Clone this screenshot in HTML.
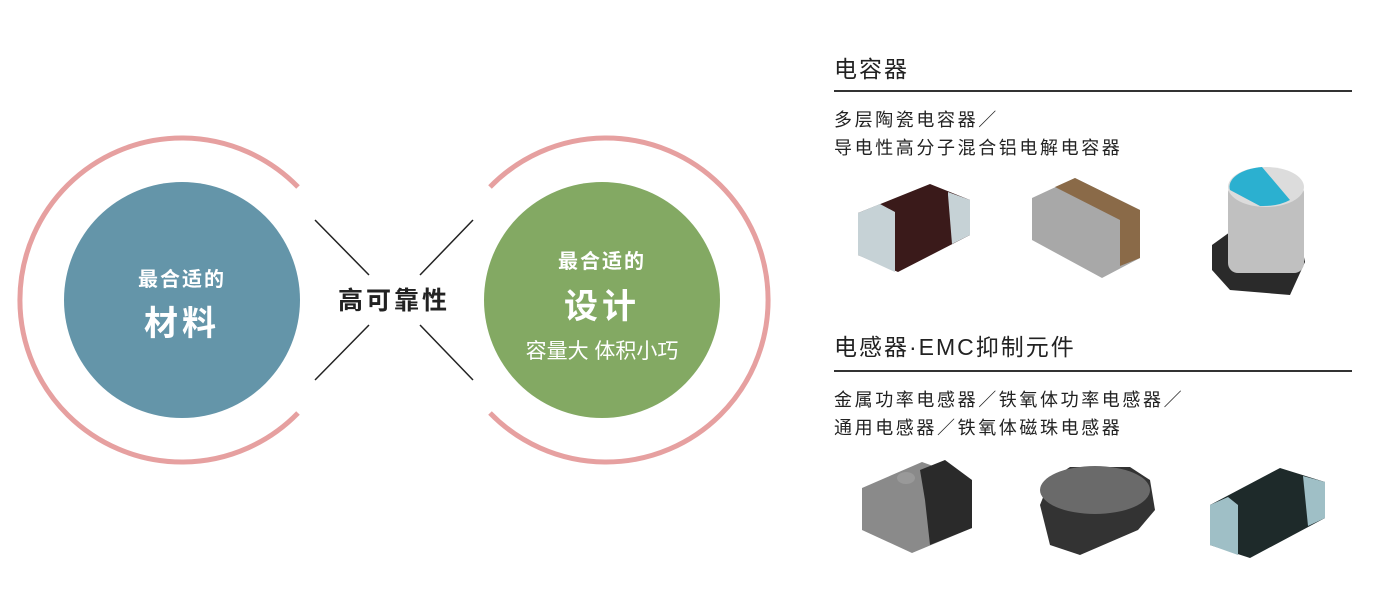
<!DOCTYPE html>
<html><head><meta charset="utf-8"><style>
body{margin:0;width:1400px;height:600px;background:#fff;overflow:hidden;font-family:"Liberation Sans","Noto Sans CJK SC",sans-serif;position:relative}
.t{position:absolute;color:#222;white-space:nowrap}
.h{font-size:23px;letter-spacing:2px}
.s{font-size:18px;line-height:28px;letter-spacing:2.6px}
.ln{position:absolute;left:834px;width:518px;height:2px;background:#333}
</style></head><body>
<svg width="1400" height="600" style="position:absolute;left:0;top:0">
<g fill="none" stroke="#e6a0a0" stroke-width="5">
<path d="M298 187 A162 162 0 1 0 298 413"/>
<path d="M490 187 A162 162 0 1 1 490 413"/>
</g>
<circle cx="182" cy="300" r="118" fill="#6495a9"/>
<circle cx="602" cy="300" r="118" fill="#83a963"/>
<g stroke="#222" stroke-width="1.5">
<line x1="315" y1="220" x2="369" y2="275"/>
<line x1="473" y1="220" x2="420" y2="275"/>
<line x1="315" y1="380" x2="369" y2="325"/>
<line x1="473" y1="380" x2="420" y2="325"/>
</g>
<g font-family="Liberation Sans,Noto Sans CJK SC,sans-serif" text-anchor="middle">
<text x="182" y="286" fill="#fff" font-size="20" font-weight="bold" letter-spacing="2">最合适的</text>
<text x="182" y="335" fill="#fff" font-size="34" font-weight="bold" letter-spacing="4">材料</text>
<text x="602" y="268" fill="#fff" font-size="20" font-weight="bold" letter-spacing="2">最合适的</text>
<text x="602" y="318" fill="#fff" font-size="34" font-weight="bold" letter-spacing="4">设计</text>
<text x="602" y="358" fill="#fff" font-size="21">容量大 体积小巧</text>
<text x="394" y="309" fill="#222" font-size="25" font-weight="bold" letter-spacing="3">高可靠性</text>
</g>
<polygon points="858,213 930,184 970,200 970,235 898,272 858,255" fill="#3a1a1a"/>
<polygon points="858,213 880,204 895,212 895,272 858,255" fill="#c6d2d6"/>
<polygon points="948,192 970,200 970,235 952,244 948,195" fill="#c6d2d6"/>
<polygon points="1032,198 1075,178 1140,210 1140,258 1102,278 1032,240" fill="#a8a8a8"/>
<polygon points="1055,187 1075,178 1140,210 1140,258 1120,266 1120,220" fill="#8a6a48"/>
<polygon points="1212,245 1230,232 1300,238 1305,262 1290,295 1230,290 1212,270" fill="#2a2a2a"/>
<rect x="1228" y="183" width="76" height="90" rx="10" fill="#c0c0c0"/>
<ellipse cx="1266" cy="187" rx="38" ry="20" fill="#dcdcdc"/>
<path d="M1230 190 A38 20 0 0 1 1262 167 L1290 200 A38 20 0 0 1 1260 206Z" fill="#2bb0d0"/>
<polygon points="862,488 922,462 972,480 972,528 912,553 862,530" fill="#8a8a8a"/>
<polygon points="920,470 945,460 972,480 972,528 930,545 925,500" fill="#2a2a2a"/>
<ellipse cx="906" cy="478" rx="9" ry="6" fill="#999"/>
<polygon points="1050,480 1070,467 1130,467 1150,480 1155,510 1138,530 1080,555 1050,545 1040,505" fill="#333"/>
<ellipse cx="1095" cy="490" rx="55" ry="24" fill="#6a6a6a"/>
<polygon points="1210,505 1280,468 1325,482 1325,518 1250,558 1210,545" fill="#1e2a2a"/>
<polygon points="1210,505 1228,497 1238,505 1238,555 1210,545" fill="#9fbfc6"/>
<polygon points="1303,476 1325,482 1325,518 1308,526" fill="#9fbfc6"/>
</svg>
<div class="t h" style="left:834px;top:50px">电容器</div>
<div class="ln" style="top:90px"></div>
<div class="t s" style="left:834px;top:106px">多层陶瓷电容器／<br>导电性高分子混合铝电解电容器</div>
<div class="t h" style="left:834px;top:328px">电感器·EMC抑制元件</div>
<div class="ln" style="top:370px"></div>
<div class="t s" style="left:834px;top:386px">金属功率电感器／铁氧体功率电感器／<br>通用电感器／铁氧体磁珠电感器</div>
</body></html>
